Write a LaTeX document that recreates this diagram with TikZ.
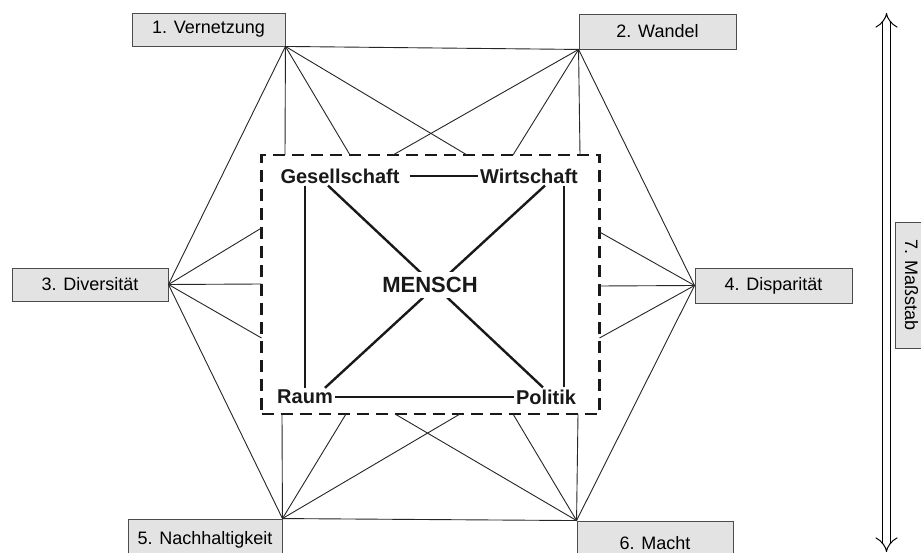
\documentclass[tikz,border=0pt]{standalone}
\usepackage{fontspec}
\setmainfont{Liberation Sans}
\usetikzlibrary{arrows.meta}
\tikzset{
  topic/.style={draw=black!70, fill=black!11, line width=0.9pt, inner sep=0pt,
    font=\fontsize{18}{21}\selectfont},
  core/.style={font=\bfseries\fontsize{20}{24}\selectfont, inner sep=2pt, text=black!90},
  spoke/.style={line width=0.9pt, draw=black!85},
  tie/.style={line width=2.4pt, draw=black!90},
  frame/.style={draw=black!90, line width=2.8pt, dash pattern=on 12pt off 7pt,
    minimum width=338pt, minimum height=259pt, inner sep=0pt},
  scalearrow/.style={line width=1pt, double distance=7pt, {Implies}-{Implies}}
}
\begin{document}
\begin{tikzpicture}[x=1pt,y=-1pt]
\useasboundingbox (0,0) rectangle (921,553);
\fill[white] (0,0) rectangle (921,553);

% outer topic boxes
\node[topic, minimum width=153pt, minimum height=33pt] (b1) at (208.5,29.5) {1. Vernetzung};
\node[topic, minimum width=157pt, minimum height=35pt] (b2) at (657.5,31.5) {2. Wandel};
\node[topic, minimum width=156pt, minimum height=33pt] (b3) at (90,284.5) {3. Diversität};
\node[topic, minimum width=157pt, minimum height=35pt] (b4) at (773.5,285.5) {4. Disparität};
\node[topic, minimum width=154pt, minimum height=42pt] (b5) at (205,540) {5. Nachhaltigkeit};
\node[topic, minimum width=156pt, minimum height=44pt] (b6) at (655,543) {6. Macht};
\node[topic, rotate=-90, minimum width=126pt, minimum height=33pt] (b7) at (911.5,285) {7. Maßstab};

% dashed frame
\node[frame] (F) at (430.5,284.5) {};

% contact points on the frame
\coordinate (t1) at (285,155);
\coordinate (t2) at (350,155);
\coordinate (t3) at (393,155);
\coordinate (t4) at (467,155);
\coordinate (t5) at (513,155);
\coordinate (t6) at (580,155);
\coordinate (l1) at (261.5,228);
\coordinate (l2) at (261.5,284);
\coordinate (l3) at (261.5,338);
\coordinate (r1) at (599.5,232);
\coordinate (r2) at (599.5,286);
\coordinate (r3) at (599.5,338);
\coordinate (u1) at (282,414);
\coordinate (u2) at (346,414);
\coordinate (u3) at (395,414);
\coordinate (u4) at (460,414);
\coordinate (u5) at (513,414);
\coordinate (u6) at (578,414);

% outline hexagon
\draw[spoke] (b1.south east) -- (b2.south west) -- (b4.west) -- (b6.north west)
  -- (b5.north east) -- (b3.east) -- cycle;

% spokes
\foreach \c in {t1,t2,t4} \draw[spoke] (b1.south east) -- (\c);
\foreach \c in {t3,t5,t6} \draw[spoke] (b2.south west) -- (\c);
\foreach \c in {l1,l2,l3} \draw[spoke] (b3.east) -- (\c);
\foreach \c in {r1,r2,r3} \draw[spoke] (b4.west) -- (\c);
\foreach \c in {u1,u2,u4} \draw[spoke] (b5.north east) -- (\c);
\foreach \c in {u3,u5,u6} \draw[spoke] (b6.north west) -- (\c);

% inner terms
\node[core] (G) at (340,176) {Gesellschaft};
\node[core] (W) at (529,176) {Wirtschaft};
\node[core] (R) at (305,397) {Raum};
\node[core] (P) at (546,397) {Politik};

\draw[tie] ([xshift=8pt]G.east) -- (W.west);
\draw[tie] (R.east) -- (P.west);
\draw[tie] (G.south -| R.north) -- (R.north);
\draw[tie] ([xshift=-16pt]W.south east) -- ([xshift=-16pt]W.south east |- P.north);
\draw[tie] ([xshift=-12pt]G.south) -- ([xshift=-3pt]P.north);
\draw[tie] ([xshift=16pt]W.south) -- ([xshift=20pt]R.north);

\node[core, fill=white, font=\bfseries\fontsize{22}{26}\selectfont, inner sep=5pt] (M) at (430,285) {MENSCH};

% scale arrow
\coordinate (a1) at (886.5,13);
\coordinate (a2) at (886.5,552);
\draw[scalearrow] (a1) -- (a2);
\end{tikzpicture}
\end{document}
